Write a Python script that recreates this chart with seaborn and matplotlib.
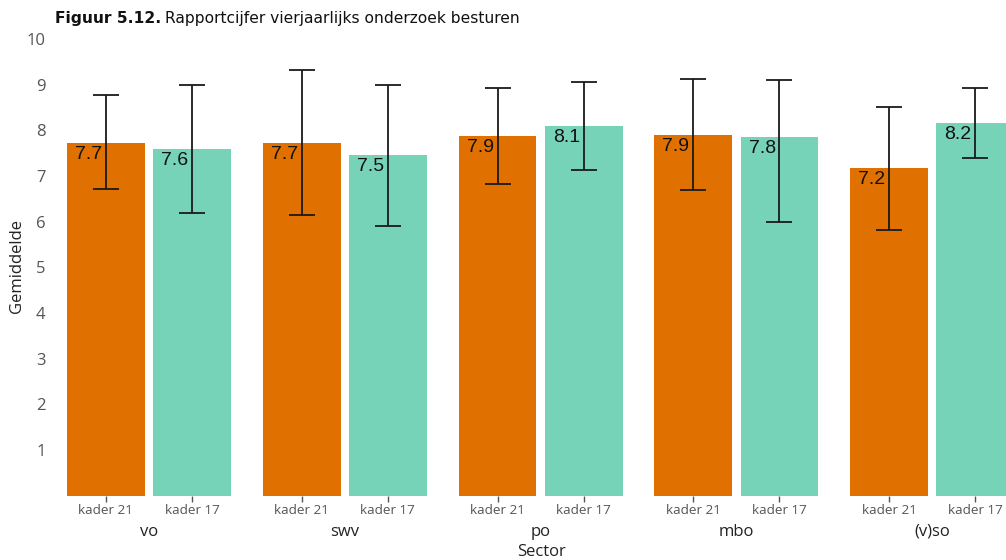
import numpy as np
import pandas as pd
import matplotlib
matplotlib.use("Agg")
import matplotlib.pyplot as plt
import matplotlib.transforms as mtransforms
from matplotlib.font_manager import FontProperties
import seaborn as sns

# data
sectors = ["vo", "swv", "po", "mbo", "(v)so"]
kaders = ["kader 21", "kader 17"]
mean_21 = [7.72, 7.72, 7.88, 7.90, 7.17]
mean_17 = [7.59, 7.46, 8.10, 7.85, 8.16]
low_21 = [6.71, 6.14, 6.82, 6.69, 5.82]
high_21 = [8.77, 9.32, 8.93, 9.12, 8.51]
low_17 = [6.19, 5.90, 7.13, 5.99, 7.39]
high_17 = [8.99, 8.99, 9.06, 9.10, 8.93]
labels_21 = ["7.7", "7.7", "7.9", "7.9", "7.2"]
labels_17 = ["7.6", "7.5", "8.1", "7.8", "8.2"]
yticks = [1, 2, 3, 4, 5, 6, 7, 8, 9, 10]

colors = {"kader 21": "#E07000", "kader 17": "#76D3B8"}

rows = []
for i, s in enumerate(sectors):
    rows.append((s, "kader 21", mean_21[i], low_21[i], high_21[i], labels_21[i]))
    rows.append((s, "kader 17", mean_17[i], low_17[i], high_17[i], labels_17[i]))
df = pd.DataFrame(rows, columns=["Sector", "Kader", "Gemiddelde", "low", "high", "label"])

sns.set_theme(style="white")
plt.rcParams["font.family"] = ["Open Sans", "DejaVu Sans"]

fig = plt.figure(figsize=(10.06, 5.6), dpi=100)
ax = fig.add_axes([0.0508, 0.1148, 0.9492, 0.8238])

sns.barplot(data=df, x="Sector", y="Gemiddelde", hue="Kader", order=sectors,
            hue_order=kaders, palette=colors, saturation=1, width=0.88, gap=0.0965,
            errorbar=None, legend=False, linewidth=0, ax=ax)

# match patches to rows by their x position
bars = sorted([p for p in ax.patches if p.get_height() > 0], key=lambda p: p.get_x())
centers = [p.get_x() + p.get_width() / 2 for p in bars]

yerr = np.array([df["Gemiddelde"] - df["low"], df["high"] - df["Gemiddelde"]])
ax.errorbar(centers, df["Gemiddelde"], yerr=yerr, fmt="none", ecolor="#1a1a1a",
            elinewidth=1.3, capsize=9.5, capthick=1.3, zorder=5)

for p, lab in zip(bars, df["label"]):
    ax.annotate(lab, (p.get_x(), p.get_height()), xytext=(8, -3),
                textcoords="offset pixels", ha="left", va="top",
                fontsize=14, color="#111111", family="Liberation Sans", zorder=6)

ax.set_xticks(centers)
ax.set_xticklabels(df["Kader"], fontsize=9.7, color="#555555")
ax.tick_params(axis="x", length=4, width=1, color="#555555", pad=2, bottom=True)
# reference is cropped on the right
ax.set_xlim(-0.5, 4.377)

ax.set_ylim(0, 10.1)
ax.set_yticks(yticks)
ax.set_yticklabels([str(t) for t in yticks], fontsize=12, color="#555555")
ax.tick_params(axis="y", length=0, pad=4)

trans = mtransforms.blended_transform_factory(ax.transData, fig.transFigure)
for i, s in enumerate(sectors):
    ax.text(i, 1 - 532 / 560, s, transform=trans, ha="center", va="center",
            fontsize=12, color="#222222")

ax.set_xlabel("")
ax.set_ylabel("")
fig.text(541 / 1006, 1 - 552 / 560, "Sector", ha="center", va="center",
         fontsize=12, color="#222222")
fig.text(17 / 1006, 1 - 266 / 560, "Gemiddelde", rotation=90,
         ha="center", va="center", fontsize=12, color="#222222")

for sp in ax.spines.values():
    sp.set_visible(False)

# title: bold prefix followed by regular text
fp_bold = FontProperties(family="DejaVu Sans", weight="bold", size=11.2)
fp_reg = FontProperties(family="DejaVu Sans", size=11.2)
t1 = fig.text(55 / 1006, 1 - 18 / 560, "Figuur 5.12.", fontproperties=fp_bold,
              ha="left", va="center", color="#111111")
fig.canvas.draw()
bb = t1.get_window_extent()
fig.text((bb.x1 + 4) / 1006, 1 - 18 / 560, "Rapportcijfer vierjaarlijks onderzoek besturen",
         fontproperties=fp_reg, ha="left", va="center", color="#111111")

fig.savefig("out.png", dpi=100, facecolor="white")
